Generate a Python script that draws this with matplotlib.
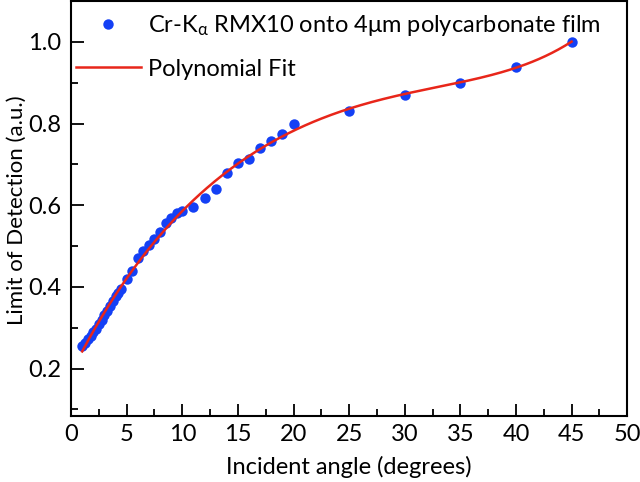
import numpy as np
import matplotlib
matplotlib.use('Agg')
import matplotlib.pyplot as plt
from matplotlib.ticker import MultipleLocator

plt.rcParams['font.family'] = ['Lato', 'DejaVu Sans']
plt.rcParams['mathtext.fontset'] = 'custom'
plt.rcParams['mathtext.rm'] = 'Lato'
plt.rcParams['mathtext.it'] = 'Lato'

angle = [1, 1.25, 1.5, 1.75, 2, 2.25, 2.5, 2.75, 3, 3.25, 3.5, 3.75, 4, 4.25, 4.5,
         5, 5.5, 6, 6.5, 7, 7.5, 8, 8.5, 9, 9.5, 10,
         11, 12, 13, 14, 15, 16, 17, 18, 19, 20,
         25, 30, 35, 40, 45]
lod = [0.255, 0.262, 0.272, 0.28, 0.29, 0.298, 0.31, 0.318, 0.33, 0.34, 0.352, 0.365, 0.378, 0.386, 0.394,
       0.42, 0.44, 0.47, 0.487, 0.503, 0.518, 0.535, 0.557, 0.568, 0.58, 0.585,
       0.595, 0.618, 0.64, 0.678, 0.703, 0.713, 0.74, 0.758, 0.775, 0.798,
       0.83, 0.871, 0.9, 0.938, 1.0]

# polynomial fit of the points
coef = np.polyfit(angle, lod, 5)
xfit = np.linspace(1, 45, 300)
yfit = np.polyval(coef, xfit)

fig = plt.figure(figsize=(6.4, 4.82), dpi=100)
ax = fig.add_axes([0.111, 0.137, 0.869, 0.861])

ax.plot(angle, lod, 'o', color='#1440f5', markersize=7.5, markeredgewidth=0,
        label=r'Cr-K$_{\alpha}$ RMX10 onto 4μm polycarbonate film', zorder=2)
ax.plot(xfit, yfit, '-', color='#e8261a', linewidth=1.8, label='Polynomial Fit', zorder=3)

ax.set_xlim(0, 50)
ax.set_ylim(0.084, 1.1)
ax.xaxis.set_major_locator(MultipleLocator(5))
ax.xaxis.set_minor_locator(MultipleLocator(2.5))
ax.yaxis.set_major_locator(MultipleLocator(0.2))
ax.yaxis.set_minor_locator(MultipleLocator(0.1))
ax.tick_params(which='both', direction='in', top=False, right=False, labelsize=17, width=1.3)
ax.tick_params(which='major', length=9)
ax.tick_params(axis='x', which='major', pad=6)
ax.tick_params(axis='y', which='major', pad=7)
ax.tick_params(which='minor', length=5)
for s in ax.spines.values():
    s.set_linewidth(1.5)

ax.set_xlabel('Incident angle (degrees)', fontsize=17)
ax.set_ylabel('Limit of Detection (a.u.)', fontsize=16)
ax.xaxis.set_label_coords(0.499, -0.096)
ax.yaxis.set_label_coords(-0.079, 0.496)

ax.legend(loc='upper left', frameon=False, fontsize=17, handlelength=2.75,
          handletextpad=0.3, labelspacing=0.87, borderpad=0.2, borderaxespad=0.1,
          bbox_to_anchor=(-0.004, 0.988))

fig.savefig('out.png', dpi=100)
